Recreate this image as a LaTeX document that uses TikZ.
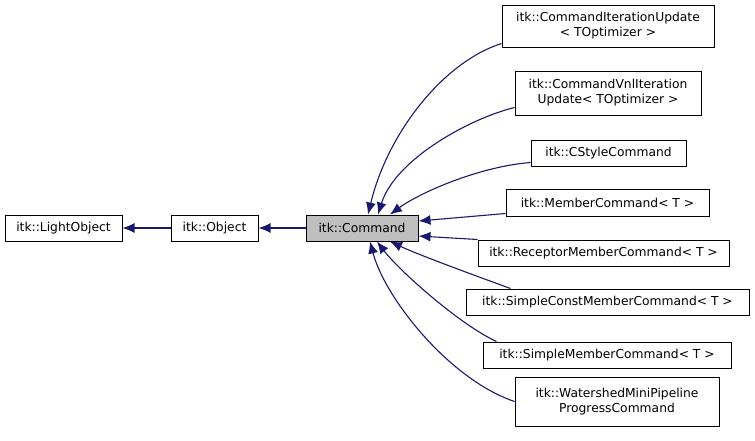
\documentclass[tikz,border=0pt]{standalone}
\usepackage{fontspec}
\setmainfont{DejaVu Sans}
\usetikzlibrary{arrows.meta}
\definecolor{edgeblue}{HTML}{191970}
\definecolor{curgray}{HTML}{BFBFBF}
\begin{document}
\begin{tikzpicture}[x=1pt,y=-1pt,
  box/.style={draw=black,line width=1pt,fill=white,inner sep=0pt,align=center,
    font=\fontsize{12.3}{15}\selectfont},
  edge/.style={draw=edgeblue,line width=1.1pt,-{Latex[length=12pt,width=10pt]}}]
\useasboundingbox[fill=white] (0,0) rectangle (755,440);
\node[box,minimum width=117pt,minimum height=26pt] (lo) at (63.5,228) {itk::LightObject};
\node[box,minimum width=87pt,minimum height=26pt] (obj) at (214.5,228) {itk::Object};
\node[box,fill=curgray,minimum width=112pt,minimum height=26pt] (cmd) at (362,228) {itk::Command};
\node[box,minimum width=212pt,minimum height=42pt] (ciu) at (608,26) {itk::CommandIterationUpdate\\{}< TOptimizer >};
\node[box,minimum width=186pt,minimum height=44pt] (cvnl) at (608,93) {itk::CommandVnlIteration\\Update< TOptimizer >};
\node[box,minimum width=155pt,minimum height=26pt] (csty) at (608.5,153) {itk::CStyleCommand};
\node[box,minimum width=203pt,minimum height=27pt] (mem) at (607.5,202.5) {itk::MemberCommand< T >};
\node[box,minimum width=251pt,minimum height=26pt] (rec) at (603.5,253) {itk::ReceptorMemberCommand< T >};
\node[box,minimum width=283pt,minimum height=26pt] (scm) at (607.5,302) {itk::SimpleConstMemberCommand< T >};
\node[box,minimum width=248pt,minimum height=26pt] (sm) at (607,355) {itk::SimpleMemberCommand< T >};
\node[box,minimum width=204pt,minimum height=49pt] (ws) at (617,401.5) {itk::WatershedMiniPipeline\\ProgressCommand};

\draw[edge] (obj) -- (lo);
\draw[edge] (cmd) -- (obj);
\draw[edge] ([yshift=4pt]ciu.south west) .. controls +(-57,18) and +(20,-83) .. ([xshift=6pt]cmd.north);
\draw[edge] ([yshift=8pt]cvnl.south west) .. controls +(-45,11) and +(17,-55) .. ([xshift=16pt]cmd.north);
\draw[edge] ([yshift=4pt]csty.south west) .. controls +(-51,4) and +(30,-22) .. ([xshift=28pt]cmd.north);
\draw[edge] ([yshift=3pt]mem.south west) -- ([yshift=7pt]cmd.east);
\draw[edge] (rec.north west) -- ([yshift=-8pt]cmd.east);
\draw[edge] ([xshift=45pt]scm.north west) .. controls +(-30,-11) and +(30,14) .. ([xshift=28pt]cmd.south);
\draw[edge] ([xshift=14pt]sm.north west) .. controls +(-37,-17) and +(22,29) .. ([xshift=15pt]cmd.south);
\draw[edge] (ws.west) .. controls +(-65,-22) and +(15,57) .. ([xshift=8pt]cmd.south);
\end{tikzpicture}
\end{document}
